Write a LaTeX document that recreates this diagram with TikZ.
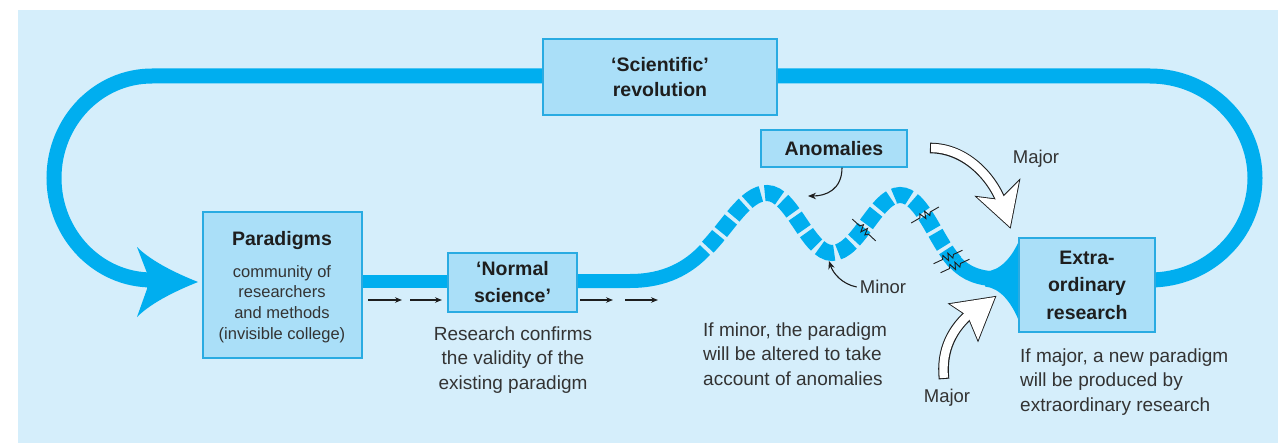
\documentclass[tikz,border=0pt]{standalone}
\usepackage{fontspec}
\setmainfont{Liberation Sans}
\usetikzlibrary{arrows.meta}
\pgfdeclarelayer{bg}
\pgfdeclarelayer{back}
\pgfsetlayers{bg,back,main}
\definecolor{bgblue}{HTML}{D5EEFB}
\definecolor{flow}{HTML}{00AEEF}
\definecolor{boxfill}{HTML}{AADFF8}
\definecolor{boxline}{HTML}{29ABE2}
\definecolor{ink}{HTML}{1E1E1E}
\definecolor{ink2}{HTML}{333333}
\begin{document}
\begin{tikzpicture}[x=1pt,y=-1pt,
  box/.style={draw=boxline, line width=1.3pt, fill=boxfill, inner sep=0pt, text=ink, align=center},
  bold/.style={font=\fontsize{19.5}{#1}\selectfont\bfseries},
  body/.style={font=\fontsize{19}{24.5}\selectfont, text=ink2, inner sep=0pt},
  small/.style={font=\fontsize{16.5}{20.7}\selectfont, text=ink2, inner sep=0pt, align=center},
  flowline/.style={draw=flow, line width=15pt},
  pointer/.style={draw=ink, line width=1.1pt, -{Stealth[length=8pt,width=6.5pt]}},
  zap/.pic={\draw[ink, line width=0.9pt, line join=miter]
     (-16,0) -- (-6,0) -- (-4,-3.5) -- (-1,3.5) -- (1.5,-3.5) -- (4,3) -- (6,0) -- (16,0);}
]
\useasboundingbox (0,0) rectangle (1278,444);
\begin{pgfonlayer}{bg}
  \fill[white] (0,0) rectangle (1278,444);
  \fill[bgblue] (18,10) rectangle (1278,443);
\end{pgfonlayer}

% boxes
\node[box, bold=25, minimum width=234pt, minimum height=76pt] (rev) at (660,77) {‘Scientific’\\revolution};
\node[box, minimum width=159pt, minimum height=146pt] (par) at (282.5,285) {};
\node[bold=25, text=ink, inner sep=0pt] (partitle) at (282,240) {Paradigms};
\node[small] (partext) at (282,304) {community of\\researchers\\and methods\\(invisible college)};
\node[box, bold=27, minimum width=129pt, minimum height=59pt] (norm) at (512.5,282.5) {‘Normal\\science’};
\node[box, bold=25, minimum width=146pt, minimum height=37pt] (anom) at (834,148.5) {Anomalies};
\node[box, bold=27.5, minimum width=136pt, minimum height=94pt] (ext) at (1087,285) {Extra-\\ordinary\\research};

% captions and labels
\node[body, align=center] (conf) at (513,360) {Research confirms\\the validity of the\\existing paradigm};
\node[body, align=left, anchor=west] (minortxt) at (703,354) {If minor, the paradigm\\will be altered to take\\account of anomalies};
\node[body, align=left, anchor=west] (majortxt) at (1020,382) {If major, a new paradigm\\will be produced by\\extraordinary research};
\node[body, font=\fontsize{18.5}{22}\selectfont] (minorlbl) at (883,287) {Minor};
\node[body, font=\fontsize{18.5}{22}\selectfont] (majtop) at (1036,159) {Major};
\node[body, font=\fontsize{18.5}{22}\selectfont] (majbot) at (947,398) {Major};

\coordinate (top) at (0,76);
\coordinate (low) at (0,280);
\coordinate (lvl) at (0,281);
\coordinate (crestpt) at (808,196);
\coordinate (troughpt) at (829,261);

% thick flow lines
\begin{pgfonlayer}{back}
  \draw[flowline] (rev.west |- top) -- (152,76)
     arc[start angle=270, end angle=90, x radius=98, y radius=102] -- (160,280);
  \fill[flow] (198,282) .. controls (178,274) and (152,262) .. (137,247)
     -- (147,273) -- (147,289) -- (137,317)
     .. controls (152,302) and (178,290) .. (198,282) -- cycle;
  \draw[flowline] (ext.east |- low) -- (1150,280)
     arc[start angle=90, end angle=-90, x radius=105, y radius=102] -- (rev.east |- top);
  \draw[flowline, line width=13pt] (par.east |- lvl) -- (norm.west |- lvl);
  \draw[flowline, line width=14pt] (norm.east |- lvl) -- (630,281)
     .. controls (665,281) and (688,268) .. (705,250);
  \draw[flowline, line width=16pt, dash pattern=on 16pt off 4pt, dash phase=-4pt]
     (705,250) .. controls (728,227) and (745,193) .. (767,193)
     .. controls (792,193) and (808,253) .. (832,253)
     .. controls (858,253) and (876,195) .. (900,195)
     .. controls (922,195) and (935,240) .. (955,262);
  \draw[flowline, line width=15pt] (955,262) .. controls (966,274) and (980,279) .. (1000,279)
     -- (ext.west |- 0,279);
  \fill[flow] (1020.5,237.5) .. controls (1012,258) and (1000,271) .. (985,271.5)
     -- (985,286.5) .. controls (1000,288) and (1012,302) .. (1020.5,325) -- cycle;
\end{pgfonlayer}

% small arrows along normal science
\foreach \a/\b in {368/402, 410/442, 580/613, 625/658}
  \draw[ink, line width=1.1pt, -{Stealth[length=7pt,width=5.5pt]}] (\a,300) -- (\b,300);

% pointers
\draw[pointer] ([xshift=8pt]anom.south) .. controls +(0,22) and +(18,0) .. (crestpt);
\draw[pointer] ([xshift=-3pt]minorlbl.west) .. controls +(-15,-3) and +(4,12) .. (troughpt);

% break marks on the wave
\pic[rotate=-43] at (864,230) {zap};
\pic[rotate=30] at (925,215) {zap};
\pic[rotate=25] at (948,257) {zap};
\pic[rotate=25] at (955,266) {zap};

% white arrows
\draw[ink, line width=10.6pt] (930,148) .. controls (964,148) and (992,175) .. (1003,206);
\filldraw[ink, line width=1.8pt] (1010,227) -- (977,197) -- (1000,200) -- (1019,181) -- cycle;
\draw[white, line width=8.4pt, shorten <=1.1pt] (930,148) .. controls (964,148) and (992,175) .. (1003,206);
\fill[white] (1010,227) -- (977,197) -- (1000,200) -- (1019,181) -- cycle;

\draw[ink, line width=10.6pt] (944,379) .. controls (941,350) and (952,328) .. (973,311);
\filldraw[ink, line width=1.8pt] (995,297) -- (950,304) -- (968,316) -- (978,340) -- cycle;
\draw[white, line width=8.4pt, shorten <=1.1pt] (944,379) .. controls (941,350) and (952,328) .. (973,311);
\fill[white] (995,297) -- (950,304) -- (968,316) -- (978,340) -- cycle;
\end{tikzpicture}
\end{document}
